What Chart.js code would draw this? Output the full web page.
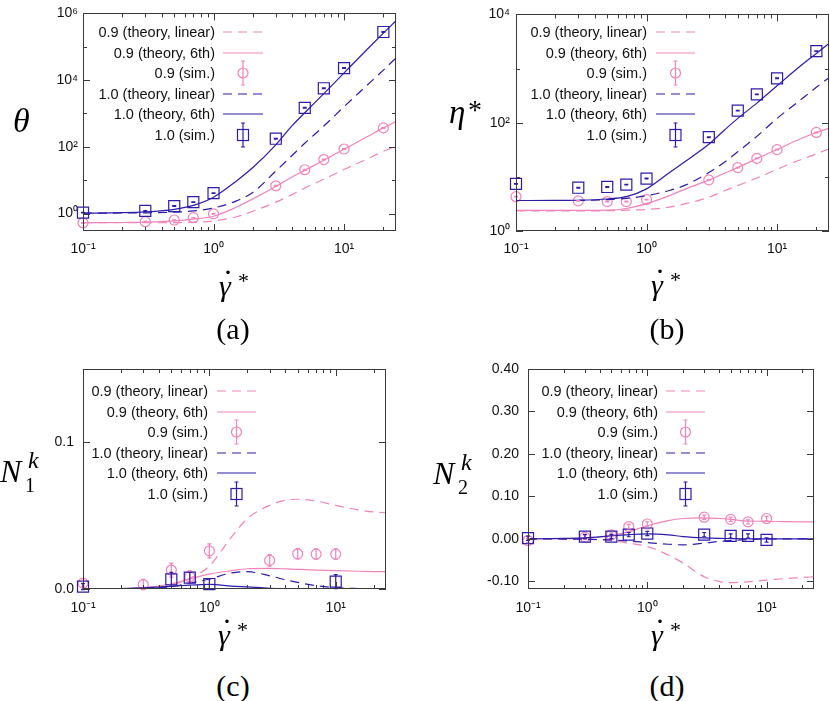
<!DOCTYPE html>
<html>
<head>
<meta charset="utf-8">
<title>shear rate dependence</title>
<script src="https://cdn.jsdelivr.net/npm/chart.js@4.4.1/dist/chart.umd.min.js"></script>
<style>
html, body { margin: 0; padding: 0; background: #fff; overflow: hidden; }
#page { position: relative; width: 830px; height: 701px; overflow: hidden; background: #fff; }
#page canvas { position: absolute; }
.lbl { position: absolute; font-family: "Liberation Serif", "DejaVu Serif", serif; line-height: 1; white-space: nowrap; color: #000; }
.lbl span { position: absolute; white-space: nowrap; }
.it { font-style: italic; }
.tag { transform: translate(-50%, -50%); font-size: 30px; }
.legtext { position: absolute; font: 14.5px "Liberation Sans", Arial, sans-serif; line-height: 20px; white-space: nowrap; color: #111; }
.legsample { position: absolute; overflow: visible; }
</style>
</head>
<body>
<div id="page">
  <canvas id="chartA" width="415" height="262" style="left:0;top:0"></canvas>
  <canvas id="chartB" width="430" height="262" style="left:415px;top:0"></canvas>
  <canvas id="chartC" width="415" height="282" style="left:0;top:340px"></canvas>
  <canvas id="chartD" width="415" height="282" style="left:415px;top:340px"></canvas>

  <!-- y titles -->
  <div class="lbl" style="left:13px;top:104px"><span class="it" style="left:0;top:0;font-size:34px">θ</span></div>
  <div class="lbl" style="left:449px;top:96px">
    <span class="it" style="left:0;top:0;font-size:33px">η</span>
    <span style="left:19px;top:0;font-size:28px">*</span>
  </div>
  <div class="lbl" style="left:0;top:455px">
    <span class="it" style="left:0;top:0;font-size:32px">N</span>
    <span class="it" style="left:28px;top:-7px;font-size:24px">k</span>
    <span style="left:25px;top:20px;font-size:20px">1</span>
  </div>
  <div class="lbl" style="left:433px;top:457px">
    <span class="it" style="left:0;top:0;font-size:32px">N</span>
    <span class="it" style="left:28px;top:-7px;font-size:24px">k</span>
    <span style="left:25px;top:20px;font-size:20px">2</span>
  </div>

  <!-- panel tags -->
  <div class="lbl tag" style="left:233px;top:329px">(a)</div>
  <div class="lbl tag" style="left:667px;top:329px">(b)</div>
  <div class="lbl tag" style="left:233px;top:686px">(c)</div>
  <div class="lbl tag" style="left:667px;top:686px">(d)</div>
</div>

<script>
// shear rates where the theory curves are sampled
const xTheory = [0.1, 0.2, 0.3, 0.5, 0.7, 1, 1.5, 2, 3, 4, 5, 7, 10, 15, 20, 25];
// shear rates of the simulations
const simX = [0.1, 0.3, 0.5, 0.7, 1, 3, 5, 7, 10, 20];
const simX9 = [0.1, 0.3, 0.5, 0.7, 1, 3, 5, 7, 10];

// (a) temperature theta
const thetaLin09 = [0.53, 0.53, 0.53, 0.535, 0.55, 0.6, 0.8, 1.17, 2.2, 3.7, 5.8, 10.7, 21, 43, 73, 107];
const theta6th09 = [0.53, 0.54, 0.55, 0.6, 0.68, 0.83, 1.57, 2.76, 6.5, 12.5, 19.7, 39.5, 85, 200, 370, 570];
const thetaLin10 = [1.03, 1.04, 1.05, 1.1, 1.2, 1.47, 2.4, 4.3, 18.8, 55, 128, 420, 1600, 7000, 20000, 46000];
const theta6th10 = [1.03, 1.06, 1.12, 1.34, 1.76, 3.1, 9.5, 24, 115, 430, 1050, 3950, 16400, 83000, 255000, 600000];
const thetaSim09 = [0.53, 0.57, 0.64, 0.75, 0.98, 6.8, 20.6, 41.5, 86, 370];
const thetaErr09 = [0.01, 0.01, 0.01, 0.01, 0.02, 0.2, 0.6, 1.2, 2.5, 10];
const thetaSim10 = [1.07, 1.2, 1.68, 2.2, 4.1, 175, 1480, 5700, 23000, 277000];
const thetaErr10 = [0.02, 0.03, 0.04, 0.05, 0.1, 5, 40, 150, 600, 7000];

// (b) viscosity eta*
const etaLin09 = [2.35, 2.35, 2.35, 2.37, 2.42, 2.5, 2.77, 3.2, 4.2, 5.6, 6.9, 9.5, 13.8, 20.5, 26.5, 33];
const eta6th09 = [2.4, 2.4, 2.4, 2.42, 2.6, 3.2, 4.5, 6.0, 8.7, 11.8, 14.8, 21.8, 32, 50, 66, 79];
const etaLin10 = [3.66, 3.66, 3.66, 3.8, 4.0, 4.5, 5.6, 7.1, 12, 19, 29, 56, 120, 260, 450, 680];
const eta6th10 = [3.66, 3.67, 3.7, 3.9, 4.3, 6.0, 12, 19.6, 40, 75, 120, 230, 480, 1100, 1900, 2900];
const etaSim09 = [4.3, 3.6, 3.5, 3.5, 3.8, 8.8, 14.8, 21.9, 31.8, 66];
const etaErr09 = [0.05, 0.05, 0.05, 0.05, 0.05, 0.1, 0.2, 0.3, 0.4, 1];
const etaSim10 = [7.4, 6.3, 6.5, 7.2, 9.3, 54, 167, 333, 660, 2100];
const etaErr10 = [0.1, 0.1, 0.1, 0.1, 0.15, 0.8, 2.5, 5, 10, 30];

// (c) first normal stress difference N1^k
const n1Lin09 = [0, 0.0001, 0.0005, 0.0027, 0.0073, 0.0157, 0.0356, 0.048, 0.057, 0.0605, 0.0612, 0.060, 0.057, 0.054, 0.0525, 0.052];
const n16th09 = [0, 0.0003, 0.0011, 0.0034, 0.0068, 0.0102, 0.0125, 0.0138, 0.014, 0.0137, 0.0134, 0.0129, 0.0125, 0.0121, 0.0119, 0.0118];
const n1Lin10 = [0, 0.0002, 0.0005, 0.0016, 0.004, 0.0068, 0.011, 0.0118, 0.009, 0.0063, 0.0045, 0.0023, 0.0009, 0.0003, 0.0001, 0];
const n16th10 = [0, 0.0003, 0.0008, 0.0018, 0.0027, 0.0032, 0.002, 0.0014, 0.0005, 0.0002, 0.0001, 0, 0, 0, 0, 0];
const n1Sim09 = [0.004, 0.003, 0.0129, 0.0084, 0.026, 0.0195, 0.024, 0.0238, 0.0238];
const n1Err09 = [0.002, 0.0035, 0.0048, 0.004, 0.0048, 0.004, 0.0035, 0.0035, 0.0035];
const n1Sim10 = [0.0016, null, 0.0066, 0.0077, 0.0034, null, null, null, 0.005];
const n1Err10 = [0.002, null, 0.0048, 0.0036, 0.0036, null, null, null, 0.0048];

// (d) second normal stress difference N2^k
const n2Lin09 = [0, -0.0003, -0.0008, -0.004, -0.010, -0.018, -0.038, -0.057, -0.089, -0.1, -0.103, -0.101, -0.097, -0.093, -0.091, -0.089];
const n26th09 = [0, 0.0005, 0.0016, 0.0079, 0.017, 0.031, 0.043, 0.048, 0.0495, 0.048, 0.046, 0.042, 0.0415, 0.0405, 0.0402, 0.040];
const n2Lin10 = [0, -0.0004, -0.001, -0.0024, -0.005, -0.0087, -0.0126, -0.014, -0.010, -0.006, -0.004, -0.0016, 0, 0, 0, 0];
const n26th10 = [0, 0.0012, 0.0024, 0.007, 0.010, 0.0118, 0.0094, 0.0055, 0.0024, 0.0012, 0.0008, 0.0003, 0, 0, 0, 0];
const n2Sim09 = [-0.004, 0.004, 0.0094, 0.029, 0.035, 0.051, 0.046, 0.040, 0.048];
const n2Err09 = [0.005, 0.005, 0.005, 0.005, 0.005, 0.005, 0.005, 0.005, 0.005];
const n2Sim10 = [0.0016, 0.0055, 0.0055, 0.010, 0.0126, 0.010, 0.007, 0.007, -0.0024];
const n2Err10 = [0.005, 0.005, 0.005, 0.005, 0.005, 0.005, 0.005, 0.005, 0.005];

// tick labels
const xTicks = [0.1, 1, 10];
const xTickLabels = ['10⁻¹', '10⁰', '10¹'];
const thetaTicks = [1, 100, 1e4, 1e6];
const thetaTickLabels = ['10⁰', '10²', '10⁴', '10⁶'];
const etaTicks = [1, 100, 1e4];
const etaTickLabels = ['10⁰', '10²', '10⁴'];
const n1Ticks = [0, 0.1];
const n1TickLabels = ['0.0', '0.1'];
const n2Ticks = [-0.1, 0, 0.1, 0.2, 0.3, 0.4];
const n2TickLabels = ['-0.10', '0.00', '0.10', '0.20', '0.30', '0.40'];

const seriesNames = ['0.9 (theory, linear)', '0.9 (theory, 6th)', '0.9 (sim.)', '1.0 (theory, linear)', '1.0 (theory, 6th)', '1.0 (sim.)'];

const PINK = '#f283ba';
const BLUE = '#2c1caa';
const DASH = [9, 6];

Chart.defaults.font.family = '"Liberation Sans", Arial, sans-serif';
Chart.defaults.font.size = 14;
Chart.defaults.color = '#111';

// minor ticks on the log shear-rate axis (2..9 per decade)
const xMinor = [];
for (let e = -1; e <= 1; e++) {
    for (let m = 2; m <= 9; m++) {
        const v = m * Math.pow(10, e);
        if (v <= 25) xMinor.push(v);
    }
}

function theoryLine(label, values, color, dashed, order) {
    return {
        label: label,
        data: xTheory.map((x, i) => ({x: x, y: values[i]})),
        borderColor: color,
        borderWidth: 1.2,
        borderDash: dashed ? DASH : [],
        pointRadius: 0,
        cubicInterpolationMode: "monotone",
        kind: dashed ? "dash" : "solid",
        order: order
    };
}

function simPoints(label, xs, values, errs, color, shape, order) {
    const pts = [];
    xs.forEach((x, i) => {
        if (values[i] !== null) pts.push({x: x, y: values[i], err: errs[i]});
    });
    return {
        label: label,
        data: pts,
        showLine: false,
        borderColor: color,
        backgroundColor: "rgba(0,0,0,0)",
        pointStyle: shape,
        pointRadius: shape === "rect" ? 7.8 : 5,
        pointBorderWidth: 1.2,
        clip: false,
        kind: shape,
        errorBars: true,
        order: order
    };
}

function sixSeries(lin09, th09, sx, sim09, err09, lin10, th10, sim10, err10) {
    return [
        theoryLine(seriesNames[0], lin09, PINK, true, 6),
        theoryLine(seriesNames[1], th09, PINK, false, 5),
        simPoints(seriesNames[2], sx, sim09, err09, PINK, "circle", 4),
        theoryLine(seriesNames[3], lin10, BLUE, true, 3),
        theoryLine(seriesNames[4], th10, BLUE, false, 2),
        simPoints(seriesNames[5], sx, sim10, err10, BLUE, "rect", 1)
    ];
}

const errorBarPlugin = {
    id: "errorBars",
    afterDatasetsDraw(chart) {
        const ctx = chart.ctx;
        const yScale = chart.scales.y;
        chart.data.datasets.forEach((ds, di) => {
            if (!ds.errorBars) return;
            const meta = chart.getDatasetMeta(di);
            ctx.save();
            ctx.strokeStyle = ds.borderColor;
            ctx.lineWidth = 1.2;
            ctx.beginPath();
            meta.data.forEach((pt, i) => {
                const d = ds.data[i];
                if (!d.err) return;
                const top = yScale.getPixelForValue(d.y + d.err);
                const bot = yScale.getPixelForValue(d.y - d.err);
                ctx.moveTo(pt.x, top); ctx.lineTo(pt.x, bot);
                ctx.moveTo(pt.x - 2, top); ctx.lineTo(pt.x + 2, top);
                ctx.moveTo(pt.x - 2, bot); ctx.lineTo(pt.x + 2, bot);
            });
            ctx.stroke();
            ctx.restore();
        });
    }
};

// gnuplot-like border with inward ticks on all four sides
function framePlugin(p) {
    return {
        id: "frame",
        afterDraw(chart) {
            const ctx = chart.ctx;
            const a = chart.chartArea;
            const xs = chart.scales.x, ys = chart.scales.y;
            ctx.save();
            ctx.strokeStyle = "#3a3a3a";
            ctx.lineWidth = 1;
            ctx.beginPath();
            const vt = (v, len) => {
                const px = Math.round(xs.getPixelForValue(v)) + 0.5;
                ctx.moveTo(px, a.bottom); ctx.lineTo(px, a.bottom - len);
                ctx.moveTo(px, a.top); ctx.lineTo(px, a.top + len);
            };
            const ht = (v, len) => {
                const py = Math.round(ys.getPixelForValue(v)) + 0.5;
                ctx.moveTo(a.left, py); ctx.lineTo(a.left + len, py);
                ctx.moveTo(a.right, py); ctx.lineTo(a.right - len, py);
            };
            xTicks.forEach(v => vt(v, 7));
            xMinor.forEach(v => vt(v, 4));
            p.yTicks.forEach(v => ht(v, 7));
            p.yMinor.forEach(v => ht(v, 4));
            ctx.stroke();
            ctx.strokeRect(Math.round(a.left) + 0.5, Math.round(a.top) + 0.5, Math.round(a.width) - 1, Math.round(a.height) - 1);
            ctx.restore();
        }
    };
}

function makePanel(p) {
    return new Chart(document.getElementById(p.id), {
        type: "line",
        data: {datasets: p.datasets},
        options: {
            responsive: false,
            animation: false,
            devicePixelRatio: 1,
            events: [],
            layout: {padding: p.padding},
            plugins: {legend: {display: false}, tooltip: {enabled: false}},
            scales: {
                x: {
                    type: "logarithmic",
                    min: 0.1,
                    max: 25,
                    grid: {display: false, drawTicks: false},
                    border: {display: false},
                    ticks: {padding: p.xPad, autoSkip: false, maxRotation: 0, callback: (v, i) => xTickLabels[i]},
                    afterBuildTicks: ax => { ax.ticks = xTicks.map(v => ({value: v})); },
                    afterFit: ax => { ax.height = p.xHeight; }
                },
                y: {
                    type: p.yType,
                    min: p.yMin,
                    max: p.yMax,
                    grid: {display: false, drawTicks: false},
                    border: {display: false},
                    ticks: {padding: p.yPad, autoSkip: false, callback: (v, i) => p.yLabels[i]},
                    afterBuildTicks: ax => { ax.ticks = p.yTicks.map(v => ({value: v})); },
                    afterFit: ax => { ax.width = p.yWidth; }
                }
            }
        },
        plugins: [framePlugin(p), errorBarPlugin]
    });
}

function legendSample(ds, w) {
    const c = ds.borderColor;
    const mid = w / 2;
    if (ds.kind === "dash") return `<line x1="0" y1="14" x2="${w}" y2="14" stroke="${c}" stroke-width="1.2" stroke-dasharray="9 6"/>`;
    if (ds.kind === "solid") return `<line x1="0" y1="14" x2="${w}" y2="14" stroke="${c}" stroke-width="1.2"/>`;
    let s = `<path d="M${mid} 2V26M${mid - 2} 2H${mid + 2}M${mid - 2} 26H${mid + 2}" stroke="${c}" stroke-width="1.2" fill="none"/>`;
    if (ds.kind === "circle") s += `<circle cx="${mid}" cy="14" r="5" stroke="${c}" stroke-width="1.2" fill="none"/>`;
    else s += `<rect x="${mid - 5.5}" y="8.5" width="11" height="11" stroke="${c}" stroke-width="1.2" fill="none"/>`;
    return s;
}

function buildLegend(chart, lg) {
    const page = document.getElementById("page");
    chart.data.datasets.forEach((ds, i) => {
        const cy = lg.top + i * 20.5;
        const t = document.createElement("div");
        t.className = "legtext";
        t.textContent = ds.label;
        t.style.right = (830 - lg.textRight) + "px";
        t.style.top = (cy - 10) + "px";
        page.appendChild(t);
        const svg = document.createElementNS("http://www.w3.org/2000/svg", "svg");
        svg.setAttribute("class", "legsample");
        svg.setAttribute("width", lg.w);
        svg.setAttribute("height", 28);
        svg.style.left = lg.left + "px";
        svg.style.top = (cy - 14) + "px";
        svg.innerHTML = legendSample(ds, lg.w);
        page.appendChild(svg);
    });
}

function gammaDotTitle(gl, gt) {
    const d = document.createElement("div");
    d.className = "lbl";
    d.style.left = gl + "px";
    d.style.top = gt + "px";
    d.innerHTML = '<span class="it" style="left:1px;top:-7px;font-size:30px">γ</span>' +
        '<span style="left:5px;top:-21px;font-size:30px">·</span>' +
        '<span style="left:20px;top:-8px;font-size:22px">*</span>';
    document.getElementById("page").appendChild(d);
}

const chartA = makePanel({
    id: "chartA",
    datasets: sixSeries(thetaLin09, theta6th09, simX, thetaSim09, thetaErr09, thetaLin10, theta6th10, thetaSim10, thetaErr10),
    padding: {left: 0, right: 19, top: 11, bottom: 0},
    yType: "logarithmic", yMin: Math.pow(10, -0.47), yMax: 1e6,
    yTicks: thetaTicks, yLabels: thetaTickLabels, yMinor: [10, 1000, 1e5],
    yWidth: 83, yPad: 5, xHeight: 31, xPad: 10
});
const chartB = makePanel({
    id: "chartB",
    datasets: sixSeries(etaLin09, eta6th09, simX, etaSim09, etaErr09, etaLin10, eta6th10, etaSim10, etaErr10),
    padding: {left: 0, right: 16, top: 11, bottom: 0},
    yType: "logarithmic", yMin: 1, yMax: 1e4,
    yTicks: etaTicks, yLabels: etaTickLabels, yMinor: [10, 1000],
    yWidth: 101, yPad: 6, xHeight: 31, xPad: 10
});
const chartC = makePanel({
    id: "chartC",
    datasets: sixSeries(n1Lin09, n16th09, simX9, n1Sim09, n1Err09, n1Lin10, n16th10, n1Sim10, n1Err10),
    padding: {left: 0, right: 29, top: 29, bottom: 0},
    yType: "linear", yMin: 0, yMax: 0.15,
    yTicks: n1Ticks, yLabels: n1TickLabels, yMinor: [],
    yWidth: 83, yPad: 9, xHeight: 33, xPad: 11
});
const chartD = makePanel({
    id: "chartD",
    datasets: sixSeries(n2Lin09, n26th09, simX9, n2Sim09, n2Err09, n2Lin10, n26th10, n2Sim10, n2Err10),
    padding: {left: 0, right: 16, top: 29, bottom: 0},
    yType: "linear", yMin: -0.118, yMax: 0.4,
    yTicks: n2Ticks, yLabels: n2TickLabels, yMinor: [],
    yWidth: 113, yPad: 9, xHeight: 33, xPad: 11
});

buildLegend(chartA, {textRight: 215, left: 223, w: 40, top: 32});
buildLegend(chartB, {textRight: 647, left: 656, w: 39, top: 32});
buildLegend(chartC, {textRight: 208, left: 217, w: 39, top: 391});
buildLegend(chartD, {textRight: 658, left: 666, w: 39, top: 391});

gammaDotTitle(218, 278);
gammaDotTitle(650, 277);
gammaDotTitle(217, 627);
gammaDotTitle(650, 627);
</script>
</body>
</html>
